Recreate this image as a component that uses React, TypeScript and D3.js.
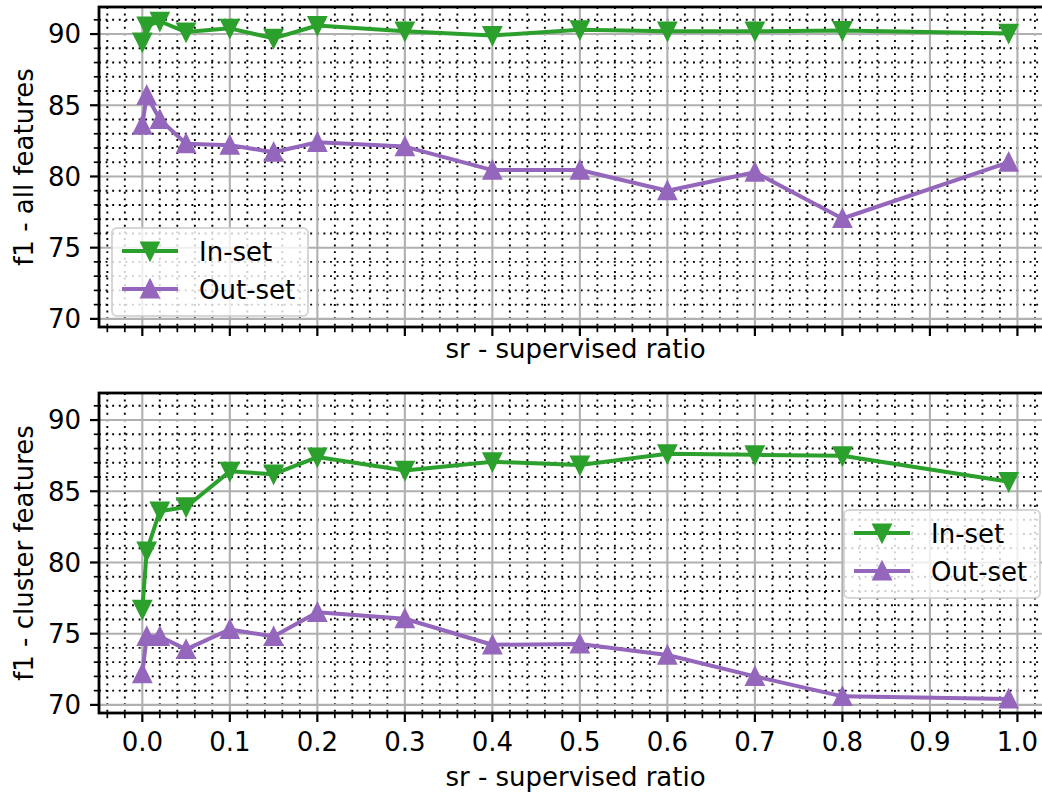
import React, { useEffect, useRef } from 'react';
import * as d3 from 'd3';

// --- data ---
const sr = [0, 0.005, 0.02, 0.05, 0.1, 0.15, 0.2, 0.3, 0.4, 0.5, 0.6, 0.7, 0.8, 0.99];
const allInSet = [89.44, 90.56, 90.9, 90.14, 90.4, 89.7, 90.6, 90.2, 89.9, 90.3, 90.2, 90.2, 90.25, 90.05];
const allOutSet = [83.6, 85.7, 84.0, 82.3, 82.2, 81.7, 82.4, 82.1, 80.45, 80.45, 79.0, 80.3, 77.05, 81.0];
const clusterInSet = [76.7, 80.8, 83.6, 83.9, 86.4, 86.2, 87.4, 86.46, 87.07, 86.84, 87.63, 87.56, 87.49, 85.67];
const clusterOutSet = [72.2, 74.8, 74.8, 73.9, 75.3, 74.8, 76.5, 76.05, 74.22, 74.28, 73.5, 72.0, 70.6, 70.42];

const xTicks = d3.range(0, 11).map(i => i / 10);
const yTicks = [70, 75, 80, 85, 90];
const seriesNames = ['In-set', 'Out-set'];

const GREEN = '#2ca02c';
const PURPLE = '#9467bd';
const FONT = '"DejaVu Sans", sans-serif';

const W = 1042;
const H = 797;
const LEFT = 99;
const RIGHT = 1052; // axes run past the cropped image edge
const X_DOMAIN: [number, number] = [-0.0495, 1.0395];
const Y_DOMAIN: [number, number] = [69.43, 91.9];

const tri = (h: number, down: boolean) =>
  down ? `M0,${h}L${-h},${-h}L${h},${-h}Z` : `M0,${-h}L${-h},${h}L${h},${h}Z`;

const App = () => {
  const ref = useRef<SVGSVGElement | null>(null);

  useEffect(() => {
    if (!ref.current) return;
    const svg = d3.select(ref.current);
    svg.selectAll('*').remove();

    const x = d3.scaleLinear().domain(X_DOMAIN).range([LEFT, RIGHT]);
    const xMinor = d3.range(-2, 52).map(i => i / 50).filter(v => v >= X_DOMAIN[0] && v <= X_DOMAIN[1] && Math.abs(v * 10 - Math.round(v * 10)) > 1e-6);
    const yMinor = d3.range(70, 92).filter(v => v % 5 !== 0);

    const panel = (id: string, top: number, bottom: number, inSet: number[], outSet: number[], yLabel: string,
      showTickLabels: boolean, xLabelY: number, legendPos: [number, number]) => {
      const y = d3.scaleLinear().domain(Y_DOMAIN).range([bottom, top]);
      const g = svg.append('g');

      g.append('clipPath').attr('id', id).append('rect')
        .attr('x', LEFT).attr('y', top).attr('width', RIGHT - LEFT).attr('height', bottom - top);

      const grid = g.append('g').attr('clip-path', `url(#${id})`);
      // minor grid: black dotted
      grid.selectAll('.vminor').data(xMinor).enter().append('line')
        .attr('x1', d => x(d)).attr('x2', d => x(d)).attr('y1', top).attr('y2', bottom)
        .attr('stroke', '#000').attr('stroke-width', 1.9).attr('stroke-dasharray', '1.9,4.7');
      grid.selectAll('.hminor').data(yMinor).enter().append('line')
        .attr('x1', LEFT).attr('x2', RIGHT).attr('y1', d => y(d)).attr('y2', d => y(d))
        .attr('stroke', '#000').attr('stroke-width', 1.9).attr('stroke-dasharray', '1.9,4.7');
      // major grid: gray solid
      grid.selectAll('.vmajor').data(xTicks).enter().append('line')
        .attr('x1', d => x(d)).attr('x2', d => x(d)).attr('y1', top).attr('y2', bottom)
        .attr('stroke', '#b0b0b0').attr('stroke-width', 2.1);
      grid.selectAll('.hmajor').data(yTicks).enter().append('line')
        .attr('x1', LEFT).attr('x2', RIGHT).attr('y1', d => y(d)).attr('y2', d => y(d))
        .attr('stroke', '#b0b0b0').attr('stroke-width', 2.1);

      // series
      const line = d3.line<number>().x((_, i) => x(sr[i])).y(d => y(d));
      [[inSet, GREEN, true], [outSet, PURPLE, false]].forEach(([vals, color, down]) => {
        const s = g.append('g').attr('clip-path', `url(#${id})`);
        s.append('path').datum(vals as number[]).attr('d', line)
          .attr('fill', 'none').attr('stroke', color as string).attr('stroke-width', 4)
          .attr('stroke-linejoin', 'round').attr('stroke-linecap', 'square');
        s.selectAll('.m').data(vals as number[]).enter().append('path')
          .attr('transform', (d, i) => `translate(${x(sr[i])},${y(d)})`)
          .attr('d', tri(8.3, down as boolean))
          .attr('fill', color as string).attr('stroke', color as string).attr('stroke-width', 2.6)
          .attr('stroke-linejoin', 'miter');
      });

      // spines
      g.append('rect').attr('x', LEFT).attr('y', top).attr('width', RIGHT - LEFT).attr('height', bottom - top)
        .attr('fill', 'none').attr('stroke', '#000').attr('stroke-width', 2.8);

      // ticks
      g.selectAll('.xt').data(xTicks).enter().append('line')
        .attr('x1', d => x(d)).attr('x2', d => x(d)).attr('y1', bottom).attr('y2', bottom + 9)
        .attr('stroke', '#000').attr('stroke-width', 2.2);
      g.selectAll('.xtm').data(xMinor).enter().append('line')
        .attr('x1', d => x(d)).attr('x2', d => x(d)).attr('y1', bottom).attr('y2', bottom + 5.2)
        .attr('stroke', '#000').attr('stroke-width', 1.7);
      g.selectAll('.yt').data(yTicks).enter().append('line')
        .attr('x1', LEFT - 9).attr('x2', LEFT).attr('y1', d => y(d)).attr('y2', d => y(d))
        .attr('stroke', '#000').attr('stroke-width', 2.2);
      g.selectAll('.ytm').data(yMinor).enter().append('line')
        .attr('x1', LEFT - 5.2).attr('x2', LEFT).attr('y1', d => y(d)).attr('y2', d => y(d))
        .attr('stroke', '#000').attr('stroke-width', 1.7);

      g.selectAll('.yl').data(yTicks).enter().append('text')
        .attr('x', LEFT - 18).attr('y', d => y(d)).attr('dy', '0.36em')
        .attr('text-anchor', 'end').attr('font-family', FONT).attr('font-size', 26)
        .text(d => d3.format('d')(d));

      if (showTickLabels) {
        g.selectAll('.xl').data(xTicks).enter().append('text')
          .attr('x', d => x(d)).attr('y', bottom + 38)
          .attr('text-anchor', 'middle').attr('font-family', FONT).attr('font-size', 26)
          .text(d => d3.format('.1f')(d));
      }

      g.append('text').attr('x', (LEFT + RIGHT) / 2).attr('y', xLabelY)
        .attr('text-anchor', 'middle').attr('font-family', FONT).attr('font-size', 26)
        .text('sr - supervised ratio');

      g.append('text').attr('transform', `translate(33,${(top + bottom) / 2}) rotate(-90)`)
        .attr('text-anchor', 'middle').attr('font-family', FONT).attr('font-size', 26)
        .text(yLabel);

      // legend
      const [lx, ly] = legendPos;
      const lg = g.append('g').attr('transform', `translate(${lx},${ly})`);
      lg.append('rect').attr('width', 196).attr('height', 88).attr('rx', 5)
        .attr('fill', 'white').attr('fill-opacity', 0.8)
        .attr('stroke', '#cccccc').attr('stroke-opacity', 0.8).attr('stroke-width', 2);
      seriesNames.forEach((name, i) => {
        const color = i === 0 ? GREEN : PURPLE;
        const cy = 23 + i * 38;
        lg.append('line').attr('x1', 10).attr('x2', 66).attr('y1', cy).attr('y2', cy)
          .attr('stroke', color).attr('stroke-width', 4);
        lg.append('path').attr('transform', `translate(38,${cy})`).attr('d', tri(8.3, i === 0))
          .attr('fill', color).attr('stroke', color).attr('stroke-width', 2.6);
        lg.append('text').attr('x', 87).attr('y', cy).attr('dy', '0.37em')
          .attr('font-family', FONT).attr('font-size', 26).text(name);
      });
    };

    panel('clipTop', 7, 327, allInSet, allOutSet, 'f1 - all features', false, 358, [112, 228]);
    panel('clipBottom', 393, 713, clusterInSet, clusterOutSet, 'f1 - cluster features', true, 786, [844, 510]);
  }, []);

  return (
    <div style={{ position: 'absolute', left: 0, top: 0, background: 'white' }}>
      <svg ref={ref} width={W} height={H} style={{ display: 'block' }} />
    </div>
  );
};

export default App;
